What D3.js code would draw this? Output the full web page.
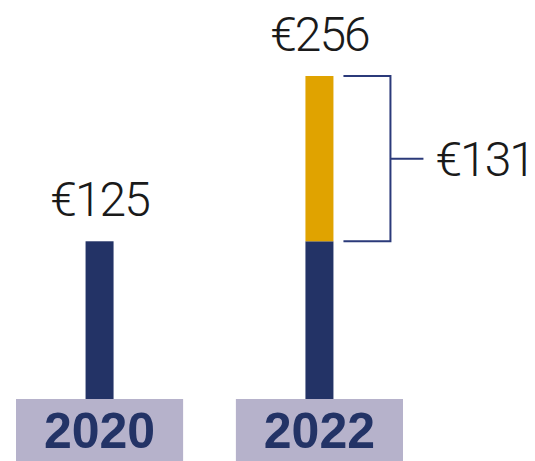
<!DOCTYPE html>
<html>
<head>
<meta charset="utf-8">
<script src="https://cdn.jsdelivr.net/npm/d3@7"></script>
<style>
  body { margin: 0; background: #fff; }
</style>
</head>
<body>
<script>
const years = ["2020", "2022"];
const baseValues = [125, 125];
const increaseValues = [0, 131];
const totalLabels = ["€125", "€256"];
const increaseLabel = "€131";

const width = 535, height = 461;
const navy = "#233366", gold = "#e0a300", boxFill = "#b6b2cb";
const valueFont = "Roboto, 'Liberation Sans', Arial, sans-serif";

const svg = d3.select("body").append("svg")
  .attr("width", width)
  .attr("height", height);

const x = d3.scaleBand()
  .domain(years)
  .range([16, 403])
  .paddingInner(0.24);

const y = d3.scaleLinear()
  .domain([0, 256])
  .range([399, 76]);

const barW = 28;
const cx = d => x(d) + x.bandwidth() / 2;

// base bars
svg.selectAll("rect.base")
  .data(years)
  .enter()
  .append("rect")
  .attr("class", "base")
  .attr("x", d => cx(d) - barW / 2)
  .attr("y", (d, i) => y(baseValues[i]))
  .attr("width", barW)
  .attr("height", (d, i) => y(0) - y(baseValues[i]))
  .style("fill", navy);

// increase bars
svg.selectAll("rect.inc")
  .data(years)
  .enter()
  .append("rect")
  .attr("class", "inc")
  .attr("x", d => cx(d) - barW / 2)
  .attr("y", (d, i) => y(baseValues[i] + increaseValues[i]))
  .attr("width", barW)
  .attr("height", (d, i) => y(baseValues[i]) - y(baseValues[i] + increaseValues[i]))
  .style("fill", gold);

// total labels
svg.selectAll("text.total")
  .data(years)
  .enter()
  .append("text")
  .attr("class", "total")
  .attr("x", d => cx(d))
  .attr("y", (d, i) => y(baseValues[i] + increaseValues[i]) - 25)
  .attr("text-anchor", "middle")
  .style("font-family", valueFont)
  .style("font-size", "48px")
  .style("font-weight", 300)
  .style("letter-spacing", "-2px")
  .style("fill", "#1a1a1a")
  .text((d, i) => totalLabels[i]);

// year boxes
svg.selectAll("rect.box")
  .data(years)
  .enter()
  .append("rect")
  .attr("class", "box")
  .attr("x", d => x(d))
  .attr("y", y(0))
  .attr("width", x.bandwidth())
  .attr("height", height - y(0))
  .style("fill", boxFill);

svg.selectAll("text.year")
  .data(years)
  .enter()
  .append("text")
  .attr("class", "year")
  .attr("x", d => cx(d))
  .attr("y", 448)
  .attr("text-anchor", "middle")
  .style("font-family", "'Liberation Sans', Arial, sans-serif")
  .style("font-size", "50px")
  .style("font-weight", "bold")
  .style("fill", navy)
  .text(d => d);

// bracket for the increase
const i2 = 1;
const bx0 = cx(years[i2]) + 24, bx1 = cx(years[i2]) + 71;
const yTop = y(baseValues[i2] + increaseValues[i2]);
const yBot = y(baseValues[i2]);
const yMid = (yTop + yBot) / 2;
svg.append("path")
  .attr("d", `M${bx0},${yTop}H${bx1}V${yBot}H${bx0}M${bx1},${yMid}H${bx1 + 33}`)
  .style("fill", "none")
  .style("stroke", "#2b3a7a")
  .style("stroke-width", 2);

svg.append("text")
  .attr("x", bx1 + 45)
  .attr("y", yMid + 17)
  .style("font-family", valueFont)
  .style("font-size", "48px")
  .style("font-weight", 300)
  .style("letter-spacing", "-2px")
  .style("fill", "#1a1a1a")
  .text(increaseLabel);
</script>
</body>
</html>
